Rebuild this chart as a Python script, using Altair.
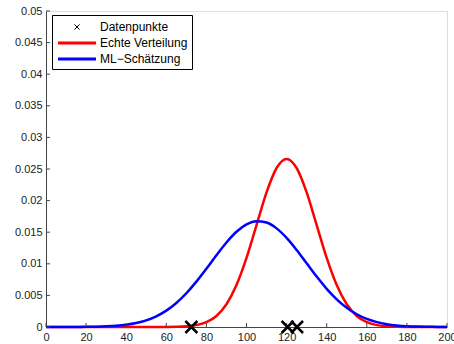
import altair as alt
import pandas as pd

# x grid of the density curves
x_grid = list(range(0, 201, 5))
red_vals = [0, 0, 0, 0, 0, 0, 0, 0, 0, 0, 0,
            0.0000022, 0.0000089, 0.000032, 0.000103, 0.000295, 0.00076, 0.001748,
            0.003599, 0.006632, 0.01093, 0.01613, 0.0213, 0.02516, 0.0266, 0.02516,
            0.0213, 0.01613, 0.01093, 0.006632, 0.003599, 0.001748, 0.00076, 0.000295,
            0.000103, 0.000032, 0.0000089, 0.0000022, 0, 0, 0]
blue_vals = [0.0000008, 0.0000021, 0.0000049, 0.0000112, 0.0000245, 0.0000512, 0.000102,
             0.000196, 0.000359, 0.000628, 0.001052, 0.001687, 0.002589, 0.003801,
             0.005339, 0.007177, 0.00923, 0.011358, 0.013372, 0.015064, 0.016238,
             0.016747, 0.016527, 0.015606, 0.014099, 0.012188, 0.010082, 0.007979,
             0.006042, 0.004378, 0.003035, 0.002013, 0.001278, 0.000776, 0.000451,
             0.000251, 0.000133, 0.000068, 0.000033, 0.000015, 0.0000069]
points_x = [72.5, 120.5, 125.2]
points_y = [0, 0, 0]

series_names = ["Datenpunkte", "Echte Verteilung", "ML\u2212Schätzung"]
series_colors = ["#000000", "#ff0000", "#0000ff"]
x_ticks = list(range(0, 201, 20))
y_ticks = [0, 0.005, 0.01, 0.015, 0.02, 0.025, 0.03, 0.035, 0.04, 0.045, 0.05]

lines_df = pd.DataFrame({
    "x": x_grid + x_grid,
    "y": red_vals + blue_vals,
    "series": [series_names[1]] * len(x_grid) + [series_names[2]] * len(x_grid),
})
pts_df = pd.DataFrame({"x": points_x, "y": points_y, "series": [series_names[0]] * len(points_x)})
xt_df = pd.DataFrame({"x": x_ticks})
yt_df = pd.DataFrame({"y": y_ticks})

FONT = "Liberation Sans"
W, H = 401, 316

xscale = alt.Scale(domain=[0, 200], nice=False, zero=False)
yscale = alt.Scale(domain=[0, 0.05], nice=False)

CROSS = "M-0.41,-0.41L0.41,0.41M-0.41,0.41L0.41,-0.41"
STROKE = "M-3,0L3,0"
color_scale = alt.Scale(domain=series_names, range=series_colors)
shape_scale = alt.Scale(domain=series_names, range=[CROSS, STROKE, STROKE])

legend = alt.Legend(
    title=None, orient="none", legendX=6, legendY=4,
    strokeColor="#000000", fillColor="white", padding=4, cornerRadius=0,
    labelFont=FONT, labelFontSize=12, labelColor="#000000",
    labelOffset=15, symbolOffset=13, symbolSize=160, rowPadding=2,
    symbolStrokeWidth=alt.ExprRef("(datum.value === 'Datenpunkte' ? 1 : 3)"),
)

xaxis = alt.Axis(values=x_ticks, tickSize=0, grid=False, labelFont=FONT, labelFontSize=11,
                 labelColor="#222222", domainColor="#444444", labelPadding=4, title=None,
                 labelFlush=False, labelOverlap=False)
yaxis = alt.Axis(values=y_ticks, tickSize=0, grid=False, labelFont=FONT, labelFontSize=11,
                 labelColor="#222222", domainColor="#444444", labelPadding=4, title=None,
                 format="~g", labelOverlap=False)

curves = alt.Chart(lines_df).mark_line(strokeWidth=2.5, interpolate="monotone").encode(
    x=alt.X("x:Q", scale=xscale, axis=xaxis),
    y=alt.Y("y:Q", scale=yscale, axis=yaxis),
    color=alt.Color("series:N", scale=color_scale, legend=legend, sort=series_names),
    detail="series:N",
)

points = alt.Chart(pts_df).mark_point(size=855, strokeWidth=2.5, filled=False, opacity=1).encode(
    x=alt.X("x:Q", scale=xscale, axis=xaxis),
    y=alt.Y("y:Q", scale=yscale, axis=yaxis),
    color=alt.Color("series:N", scale=color_scale, legend=legend, sort=series_names),
    shape=alt.Shape("series:N", scale=shape_scale, legend=legend, sort=series_names),
)

xticks = alt.Chart(xt_df).mark_rule(color="#444444", strokeWidth=1).encode(
    x=alt.X("x:Q", scale=xscale, axis=xaxis),
    y=alt.value(H),
    y2=alt.value(H - 4),
)
yticks = alt.Chart(yt_df).mark_rule(color="#444444", strokeWidth=1).encode(
    y=alt.Y("y:Q", scale=yscale, axis=yaxis),
    x=alt.value(0),
    x2=alt.value(4),
)

chart = alt.layer(curves, xticks, yticks, points).properties(
    width=W, height=H,
    autosize=alt.AutoSizeParams(type="none"),
    padding={"left": 46, "top": 11, "right": 7, "bottom": 17},
).configure_view(stroke=None).configure(background="white")

chart.save("out.html", embed_options={"renderer": "svg", "actions": False})
